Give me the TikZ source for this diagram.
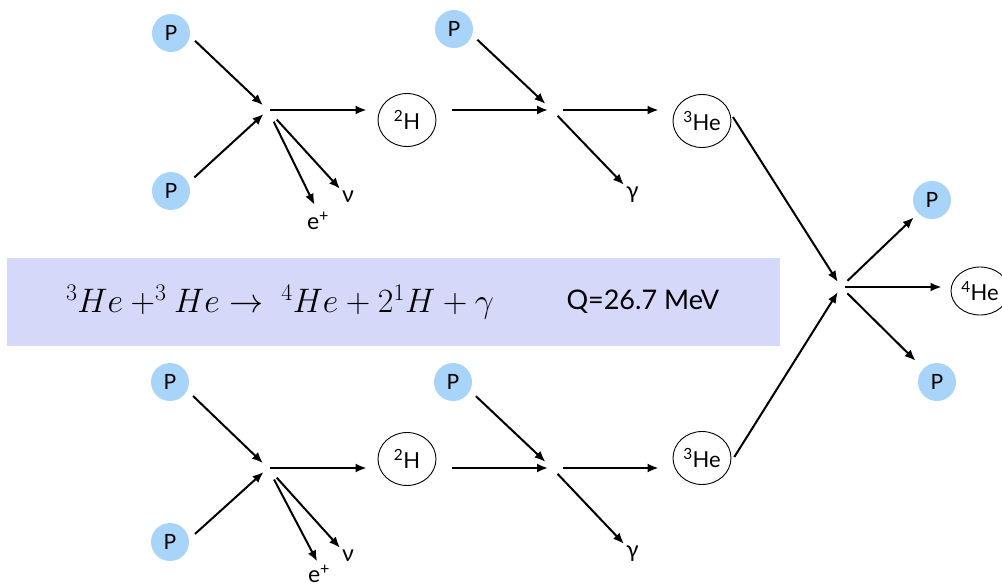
\RequirePackage{fix-cm}
\documentclass[tikz,border=0pt]{standalone}
\usepackage{fontspec}
\setmainfont{Lato}
\usepackage{tikz}
\usetikzlibrary{arrows.meta, shapes, calc}
\usepackage{xcolor}
\definecolor{protonblue}{RGB}{168,212,250}
\definecolor{bandlilac}{RGB}{214,216,250}

\begin{document}
\begin{tikzpicture}[x=1pt, y=-1pt,
    proton/.style={circle, fill=protonblue, minimum size=38pt, inner sep=0pt,
      font=\fontsize{21}{25}\selectfont},
    nucleus/.style={draw, ellipse, line width=0.9pt, minimum width=58pt,
      minimum height=53pt, inner sep=0pt, font=\fontsize{22}{26}\selectfont},
    particle/.style={inner sep=0pt, font=\fontsize{23}{27}\selectfont},
    react/.style={-{Latex[length=11pt, width=9pt]}, line width=2pt}]
  \useasboundingbox (0,0) rectangle (1002,587);

  % summary band
  \fill[bandlilac] (7,258) rectangle (780,346);
  \node (eqn) at (280,302) {\fontsize{34}{40}\selectfont $^3He+^3He\rightarrow\ ^4He+2^1H+\gamma$};
  \node[anchor=west] (qval) at (563,302) {\fontsize{27}{32}\selectfont Q=26.7 MeV};

  % upper chain: p + p -> 2H + e+ + nu
  \node[proton] (p1) at (171,33) {P};
  \node[proton] (p2) at (171,191) {P};
  \coordinate (v1) at (268,110);
  \node[nucleus] (h2a) at (407,120) {\textsuperscript{2}H};
  \node[particle, anchor=north] (ep1) at (318,212) {e\textsuperscript{+}};
  \node[particle, anchor=north west] (nu1) at (342,191) {ν};
  \draw[react, shorten <=7pt, shorten >=7pt] (p1.-9) -- (v1);
  \draw[react, shorten <=8pt, shorten >=6pt] (p2.25) -- (v1);
  \draw[react, shorten <=2pt, shorten >=11pt] (v1) -- (v1 -| h2a.west);
  \draw[react, shorten <=13pt, shorten >=8pt] (v1) -- (ep1.north);
  \draw[react, shorten <=13pt, shorten >=3pt] (v1) -- (nu1.north west);

  % upper chain: 2H + p -> 3He + gamma
  \node[proton] (p3) at (454,29) {P};
  \coordinate (v2) at (552,110);
  \node[nucleus] (he3a) at (702,121) {\textsuperscript{3}He};
  \node[particle, anchor=north west] (ga1) at (626,187) {γ};
  \draw[react, shorten <=16pt, shorten >=4pt] (h2a.east |- v2) -- (v2);
  \draw[react, shorten <=7pt, shorten >=9pt] (p3.-18) -- (v2);
  \draw[react, shorten <=11pt, shorten >=14pt] (v2) -- (v2 -| he3a.west);
  \draw[react, shorten <=8pt, shorten >=3pt] (v2) -- (ga1.north west);

  % lower chain: p + p -> 2H + e+ + nu
  \node[proton] (p6) at (170,382) {P};
  \node[proton] (p7) at (170,542) {P};
  \coordinate (v4) at (268,468);
  \node[nucleus] (h2b) at (407,459) {\textsuperscript{2}H};
  \node[particle, anchor=north] (ep2) at (319,565) {e\textsuperscript{+}};
  \node[particle, anchor=north west] (nu2) at (342,550) {ν};
  \draw[react, shorten <=8pt, shorten >=7pt] (p6.-26) -- (v4);
  \draw[react, shorten <=8pt, shorten >=6pt] (p7.8) -- (v4);
  \draw[react, shorten <=2pt, shorten >=11pt] (v4) -- (v4 -| h2b.west);
  \draw[react, shorten <=13pt, shorten >=4pt] (v4) -- (ep2.north);
  \draw[react, shorten <=13pt, shorten >=3pt] (v4) -- (nu2.north west);

  % lower chain: 2H + p -> 3He + gamma
  \node[proton] (p8) at (453,382) {P};
  \coordinate (v5) at (552,468);
  \node[nucleus] (he3b) at (702,458) {\textsuperscript{3}He};
  \node[particle, anchor=north west] (ga2) at (626,546) {γ};
  \draw[react, shorten <=16pt, shorten >=4pt] (h2b.east |- v5) -- (v5);
  \draw[react, shorten <=8pt, shorten >=9pt] (p8.-27) -- (v5);
  \draw[react, shorten <=11pt, shorten >=14pt] (v5) -- (v5 -| he3b.west);
  \draw[react, shorten <=8pt, shorten >=3pt] (v5) -- (ga2.north west);

  % 3He + 3He -> 4He + 2p
  \coordinate (v3) at (841,287);
  \node[proton] (p4) at (932,200) {P};
  \node[nucleus, minimum height=48pt] (he4) at (980,291) {\textsuperscript{4}He};
  \node[proton] (p5) at (937,382) {P};
  \draw[react, shorten <=6pt, shorten >=6pt] (he3a.18) -- (v3);
  \draw[react, shorten <=6pt, shorten >=6pt] (he3b.-8) -- (v3);
  \draw[react, shorten <=9pt, shorten >=6pt] (v3) -- (p4);
  \draw[react, shorten <=4pt, shorten >=9pt] (v3) -- (v3 -| he4.west);
  \draw[react, shorten <=9pt, shorten >=11pt] (v3) -- (p5);
\end{tikzpicture}
\end{document}
